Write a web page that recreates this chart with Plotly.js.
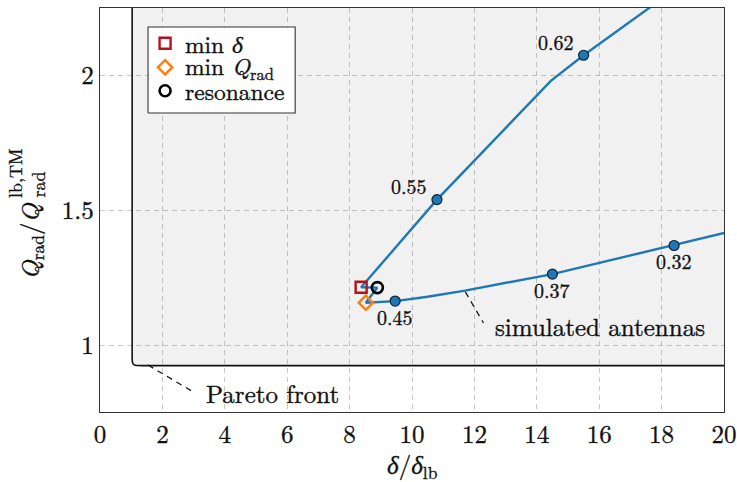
<!DOCTYPE html>
<html>
<head>
<meta charset="utf-8">
<script src="https://cdn.plot.ly/plotly-3.0.1.min.js"></script>
<style>
html,body{margin:0;padding:0;background:#fff;}
#chart{width:737px;height:482px;}
svg text, svg tspan { font-family: 'Latin Modern Roman', 'Liberation Serif', serif !important; stroke: #111; stroke-width: 0.35px; }
</style>
</head>
<body>
<div id="chart"></div>
<script>
// ---- data ----
const paretoX = [1.03, 1.03, 1.04, 1.07, 1.13, 1.3, 20.5];
const paretoY = [2.3, 0.95, 0.937, 0.93, 0.926, 0.925, 0.925];

const curveX = [17.9, 15.5, 14.45, 10.8, 8.37, 8.89, 8.52, 9.46, 10.5, 11.7, 14.5, 18.4, 20.0, 20.5];
const curveY = [2.275, 2.075, 1.98, 1.54, 1.215, 1.214, 1.158, 1.164, 1.180, 1.203, 1.264, 1.370, 1.415, 1.43];

const dotX = [15.5, 10.8, 9.46, 14.5, 18.4];
const dotY = [2.075, 1.54, 1.164, 1.264, 1.37];
const dotLabels = ['0.62', '0.55', '0.45', '0.37', '0.32'];
const dotLabelAbove = [true, true, false, false, false];

const minDeltaX = [8.37], minDeltaY = [1.215];
const minQX = [8.52], minQY = [1.158];
const resX = [8.89], resY = [1.214];

const paretoLeaderX = [1.54, 3.05], paretoLeaderY = [0.927, 0.823];
const antLeaderX = [11.71, 12.29], antLeaderY = [1.198, 1.083];

const legendNames = ['min <i>δ</i>', 'min <i>Q</i><sub>rad</sub>', 'resonance'];
const xTicks = [0, 2, 4, 6, 8, 10, 12, 14, 16, 18, 20];
const yTicks = [1, 1.5, 2];
const yTickText = ['1', '1.5', '2'];

// ---- styling ----
const FONT = 'Latin Modern Roman, Liberation Serif, serif';
const BLUE = '#1f77b4';
const RED = '#b5121b';
const ORANGE = '#ff7f0e';
const TXT = '#111';

const fillX = paretoX.concat([20.5]);
const fillY = paretoY.concat([2.3]);

const traces = [
  {x: fillX, y: fillY, type: 'scatter', mode: 'lines', fill: 'toself',
   fillcolor: 'rgba(0,0,0,0.055)', line: {width: 0}, hoverinfo: 'skip'},
  {x: paretoX, y: paretoY, type: 'scatter', mode: 'lines', line: {color: '#111', width: 1.6, shape: 'spline', smoothing: 0.8}},
  {x: paretoLeaderX, y: paretoLeaderY, type: 'scatter', mode: 'lines',
   line: {color: '#111', width: 1.2, dash: '6px,5px'}},
  {x: antLeaderX, y: antLeaderY, type: 'scatter', mode: 'lines',
   line: {color: '#111', width: 1.2, dash: '6px,5px'}},
  {x: curveX, y: curveY, type: 'scatter', mode: 'lines',
   line: {color: BLUE, width: 2.4}},
  {x: dotX, y: dotY, type: 'scatter', mode: 'markers',
   marker: {color: BLUE, size: 10, line: {color: '#0b2236', width: 1.2}}},
  {x: minDeltaX, y: minDeltaY, type: 'scatter', mode: 'markers',
   marker: {symbol: 'square-open', color: RED, size: 11, line: {width: 2.4}}},
  {x: minQX, y: minQY, type: 'scatter', mode: 'markers',
   marker: {symbol: 'diamond-open', color: ORANGE, size: 11, line: {width: 2.4}}},
  {x: resX, y: resY, type: 'scatter', mode: 'markers',
   marker: {symbol: 'circle-open', color: '#000', size: 11, line: {width: 2.6}}}
];

// legend drawn on an overlay [0,1] frame
const LX0 = 0.077, LX1 = 0.3128, LY0 = 0.740, LY1 = 0.953;
const legSymX = 0.1043;
const legRowY = [0.9126, 0.8532, 0.7953];
traces.push({x: [LX0, LX1, LX1, LX0, LX0], y: [LY0, LY0, LY1, LY1, LY0],
  xaxis: 'x2', yaxis: 'y2', type: 'scatter', mode: 'lines', fill: 'toself',
  fillcolor: '#fff', line: {color: '#333', width: 1.1}});
traces.push({x: [legSymX], y: [legRowY[0]], xaxis: 'x2', yaxis: 'y2', type: 'scatter', mode: 'markers',
  marker: {symbol: 'square-open', color: RED, size: 11, line: {width: 2.4}}});
traces.push({x: [legSymX], y: [legRowY[1]], xaxis: 'x2', yaxis: 'y2', type: 'scatter', mode: 'markers',
  marker: {symbol: 'diamond-open', color: ORANGE, size: 11, line: {width: 2.4}}});
traces.push({x: [legSymX], y: [legRowY[2]], xaxis: 'x2', yaxis: 'y2', type: 'scatter', mode: 'markers',
  marker: {symbol: 'circle-open', color: '#000', size: 11, line: {width: 2.6}}});

const annotations = [];
dotLabels.forEach((t, i) => {
  annotations.push({x: dotX[i], y: dotY[i], xref: 'x', yref: 'y', text: t, showarrow: false,
    xshift: dotLabelAbove[i] ? -28 : 0, yshift: dotLabelAbove[i] ? 14 : -15,
    font: {family: FONT, size: 20, color: TXT}});
});
legendNames.forEach((t, i) => {
  annotations.push({x: 0.1331, y: legRowY[i], xref: 'paper', yref: 'paper', text: t, showarrow: false,
    xanchor: 'left', yanchor: 'middle', font: {family: FONT, size: 23.5, color: TXT}});
});
annotations.push({x: 3.34, y: 0.827, xref: 'x', yref: 'y', text: 'Pareto front', showarrow: false,
  xanchor: 'left', yanchor: 'middle', font: {family: FONT, size: 25, color: TXT}});
annotations.push({x: 12.61, y: 1.075, xref: 'x', yref: 'y', text: 'simulated antennas', showarrow: false,
  xanchor: 'left', yanchor: 'middle', font: {family: FONT, size: 25, color: TXT}});
// axis titles
annotations.push({x: 0.5, y: -0.131, xref: 'paper', yref: 'paper', text: '<i>δ</i>/<i>δ</i><sub>lb</sub>',
  showarrow: false, xanchor: 'center', yanchor: 'middle', font: {family: FONT, size: 25, color: TXT}});
annotations.push({x: 0, xshift: -70, y: 0.5223, xref: 'paper', yref: 'paper', text: '<i>Q</i><sub>rad</sub>/<i>Q</i>',
  textangle: -90, showarrow: false, xanchor: 'center', yanchor: 'top', font: {family: FONT, size: 25, color: TXT}});
annotations.push({x: 0, xshift: -85, y: 0.5248, xref: 'paper', yref: 'paper', text: 'lb,TM',
  textangle: -90, showarrow: false, xanchor: 'center', yanchor: 'bottom', font: {family: FONT, size: 18, color: TXT}});
annotations.push({x: 0, xshift: -62.5, y: 0.5248, xref: 'paper', yref: 'paper', text: 'rad',
  textangle: -90, showarrow: false, xanchor: 'center', yanchor: 'bottom', font: {family: FONT, size: 18, color: TXT}});

const layout = {
  width: 737, height: 482,
  margin: {l: 100, r: 13, t: 8, b: 70, pad: 0},
  paper_bgcolor: '#fff', plot_bgcolor: '#fff',
  showlegend: false,
  font: {family: FONT, size: 24, color: TXT},
  xaxis: {range: [0, 20], tickvals: xTicks, ticktext: xTicks.map(String), showgrid: true,
    gridcolor: '#c8c8c8', griddash: '5px,4px', gridwidth: 1, zeroline: false,
    showline: true, mirror: true, linecolor: '#333', linewidth: 1.2, ticks: '',
    tickfont: {family: FONT, size: 25, color: TXT}},
  yaxis: {range: [0.753, 2.25], tickvals: yTicks, ticktext: yTickText, showgrid: true,
    gridcolor: '#c8c8c8', griddash: '5px,4px', gridwidth: 1, zeroline: false,
    showline: true, mirror: true, linecolor: '#333', linewidth: 1.2, ticks: '',
    tickfont: {family: FONT, size: 25, color: TXT}},
  xaxis2: {range: [0, 1], overlaying: 'x', visible: false, fixedrange: true},
  yaxis2: {range: [0, 1], overlaying: 'y', visible: false, fixedrange: true},
  annotations: annotations
};

Plotly.newPlot('chart', traces, layout, {displayModeBar: false, staticPlot: true});
</script>
</body>
</html>
